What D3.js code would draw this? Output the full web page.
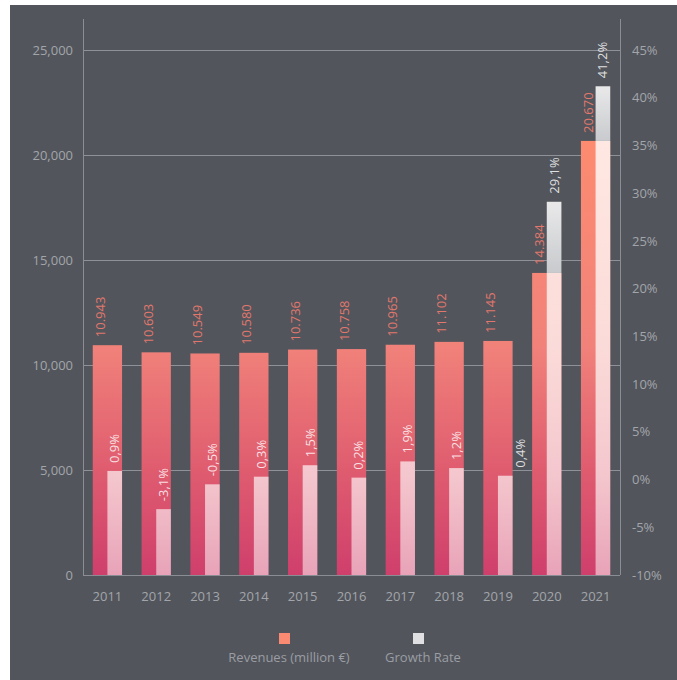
<!DOCTYPE html>
<html>
<head>
<meta charset="utf-8">
<script src="https://cdn.jsdelivr.net/npm/d3@7"></script>
<style>
  html, body { margin: 0; padding: 0; background: #fff; }
  text { font-family: "Open Sans", sans-serif; }
</style>
</head>
<body>
<div id="chart"></div>
<script>
// values
const years = ["2011", "2012", "2013", "2014", "2015", "2016", "2017", "2018", "2019", "2020", "2021"];
const revenues = [10943, 10603, 10549, 10580, 10736, 10758, 10965, 11102, 11145, 14384, 20670];
const growth = [0.9, -3.1, -0.5, 0.3, 1.5, 0.2, 1.9, 1.2, 0.4, 29.1, 41.2];
const leftTicks = [0, 5000, 10000, 15000, 20000, 25000];
const rightTicks = [-10, -5, 0, 5, 10, 15, 20, 25, 30, 35, 40, 45];
const legendItems = ["Revenues (million €)", "Growth Rate"];

const width = 677, height = 680;
const plot = { left: 83, right: 620, top: 19, bottom: 575 };

const de = d3.formatLocale({ decimal: ",", thousands: ".", grouping: [3], currency: ["", "€"], minus: "-" });
const fmtRev = de.format(",");
const fmtPct = d => de.format(".1f")(d) + "%";

const svg = d3.select("#chart").append("svg")
    .attr("width", width)
    .attr("height", height);

svg.append("rect")
    .attr("x", 10).attr("y", 5)
    .attr("width", width - 10).attr("height", height - 5)
    .attr("fill", "#52555c");

const defs = svg.append("defs");

const revGrad = defs.append("linearGradient")
    .attr("id", "revGrad")
    .attr("gradientUnits", "userSpaceOnUse")
    .attr("x1", 0).attr("x2", 0).attr("y1", 140).attr("y2", plot.bottom);
[[0, "#fd8b70"], [0.47, "#f1827a"], [0.76, "#df5c6f"], [1, "#cf3f6c"]].forEach(([o, c]) =>
    revGrad.append("stop").attr("offset", o).attr("stop-color", c));

const growGrad = defs.append("linearGradient")
    .attr("id", "growGrad")
    .attr("gradientUnits", "userSpaceOnUse")
    .attr("x1", 0).attr("x2", 0).attr("y1", 140).attr("y2", plot.bottom);
[[0, 0.8], [0.76, 0.66], [1, 0.52]].forEach(([o, a]) =>
    growGrad.append("stop").attr("offset", o).attr("stop-color", "#fff").attr("stop-opacity", a));

const greyGrad = defs.append("linearGradient")
    .attr("id", "greyGrad")
    .attr("x1", 0).attr("x2", 0).attr("y1", 0).attr("y2", 1);
greyGrad.append("stop").attr("offset", 0).attr("stop-color", "#e9e9ea");
greyGrad.append("stop").attr("offset", 1).attr("stop-color", "#c8cacd");

const x = d3.scaleBand()
    .domain(years)
    .range([plot.left, plot.right])
    .paddingInner(0.4)
    .paddingOuter(0.2);

const yL = d3.scaleLinear().domain([0, 25000]).range([plot.bottom, 50]);
const yR = d3.scaleLinear().domain([-10, 45]).range([plot.bottom, 50]);

const data = years.map((year, i) => ({ year, rev: revenues[i], g: growth[i] }));
const bw = x.bandwidth();

// grid lines
svg.append("g")
    .selectAll("line")
    .data(leftTicks.slice(1))
    .enter()
    .append("line")
    .attr("x1", plot.left).attr("x2", plot.right)
    .attr("y1", d => yL(d) + 0.5).attr("y2", d => yL(d) + 0.5)
    .attr("stroke", "#8e9197")
    .attr("stroke-width", 1);

// revenue bars
svg.append("g")
    .selectAll("rect")
    .data(data)
    .enter()
    .append("rect")
    .attr("x", d => x(d.year))
    .attr("y", d => yL(d.rev))
    .attr("width", bw)
    .attr("height", d => plot.bottom - yL(d.rev))
    .attr("fill", "url(#revGrad)");

// growth bars: part above the revenue bar is grey, part over it is translucent white
const gBars = svg.append("g");
gBars.selectAll("rect.upper")
    .data(data.filter(d => yR(d.g) < yL(d.rev)))
    .enter()
    .append("rect")
    .attr("class", "upper")
    .attr("x", d => x(d.year) + bw / 2)
    .attr("y", d => yR(d.g))
    .attr("width", bw / 2)
    .attr("height", d => yL(d.rev) - yR(d.g))
    .attr("fill", "url(#greyGrad)");
gBars.selectAll("rect.lower")
    .data(data)
    .enter()
    .append("rect")
    .attr("class", "lower")
    .attr("x", d => x(d.year) + bw / 2)
    .attr("y", d => Math.max(yR(d.g), yL(d.rev)))
    .attr("width", bw / 2)
    .attr("height", d => plot.bottom - Math.max(yR(d.g), yL(d.rev)))
    .attr("fill", "url(#growGrad)");

// axis lines
const axisColor = "#8a8d93";
svg.append("line")
    .attr("x1", plot.left + 0.5).attr("x2", plot.left + 0.5)
    .attr("y1", plot.top).attr("y2", plot.bottom)
    .attr("stroke", axisColor);
svg.append("line")
    .attr("x1", plot.right + 0.5).attr("x2", plot.right + 0.5)
    .attr("y1", plot.top).attr("y2", plot.bottom)
    .attr("stroke", axisColor);
svg.append("line")
    .attr("x1", plot.left).attr("x2", plot.right)
    .attr("y1", plot.bottom + 0.5).attr("y2", plot.bottom + 0.5)
    .attr("stroke", axisColor);

// axes labels
const tickColor = "#a2a5aa";
const leftAxis = svg.append("g")
    .attr("transform", `translate(${plot.left},0)`)
    .call(d3.axisLeft(yL).tickValues(leftTicks).tickFormat(d3.format(",")).tickSize(0).tickPadding(10));
const rightAxis = svg.append("g")
    .attr("transform", `translate(${plot.right},0)`)
    .call(d3.axisRight(yR).tickValues(rightTicks).tickFormat(d => d + "%").tickSize(0).tickPadding(12));
const bottomAxis = svg.append("g")
    .attr("transform", `translate(0,${plot.bottom})`)
    .call(d3.axisBottom(x).tickSize(0).tickPadding(17));
[leftAxis, rightAxis, bottomAxis].forEach(a => {
    a.select(".domain").remove();
    a.selectAll("text")
        .attr("fill", tickColor)
        .style("font-size", "13px")
        .style("font-family", "'Open Sans', sans-serif");
});

// value labels
svg.append("g")
    .selectAll("text")
    .data(data)
    .enter()
    .append("text")
    .attr("transform", d => `translate(${x(d.year) + bw / 4 + 4.5},${yL(d.rev) - 8}) rotate(-90)`)
    .attr("fill", "#e2786d")
    .style("font-size", "13px")
    .text(d => fmtRev(d.rev));

svg.append("g")
    .selectAll("text")
    .data(data)
    .enter()
    .append("text")
    // the 2019 label is pushed aside in the original to avoid the 2020 bar
    .attr("transform", d => {
        const shift = d.year === "2019" ? bw / 2 + 1 : 0;
        return `translate(${x(d.year) + bw * 3 / 4 + 4.5 + shift},${yR(d.g) - 8}) rotate(-90)`;
    })
    .attr("fill", "#fff")
    .attr("fill-opacity", 0.82)
    .style("font-size", "13px")
    .text(d => fmtPct(d.g));

// legend
const legendCenters = [286, 420];
const legendColors = ["#fa8a72", "#e0e0e2"];
const legend = svg.append("g")
    .selectAll("g")
    .data(legendItems)
    .enter()
    .append("g")
    .attr("transform", (d, i) => `translate(${legendCenters[i]},0)`);
legend.append("rect")
    .attr("x", -7)
    .attr("y", 633)
    .attr("width", 11).attr("height", 11)
    .attr("fill", (d, i) => legendColors[i]);
legend.append("text")
    .attr("x", 3)
    .attr("y", 662)
    .attr("text-anchor", "middle")
    .attr("fill", "#9a9da3")
    .style("font-size", "13px")
    .text(d => d);
</script>
</body>
</html>
